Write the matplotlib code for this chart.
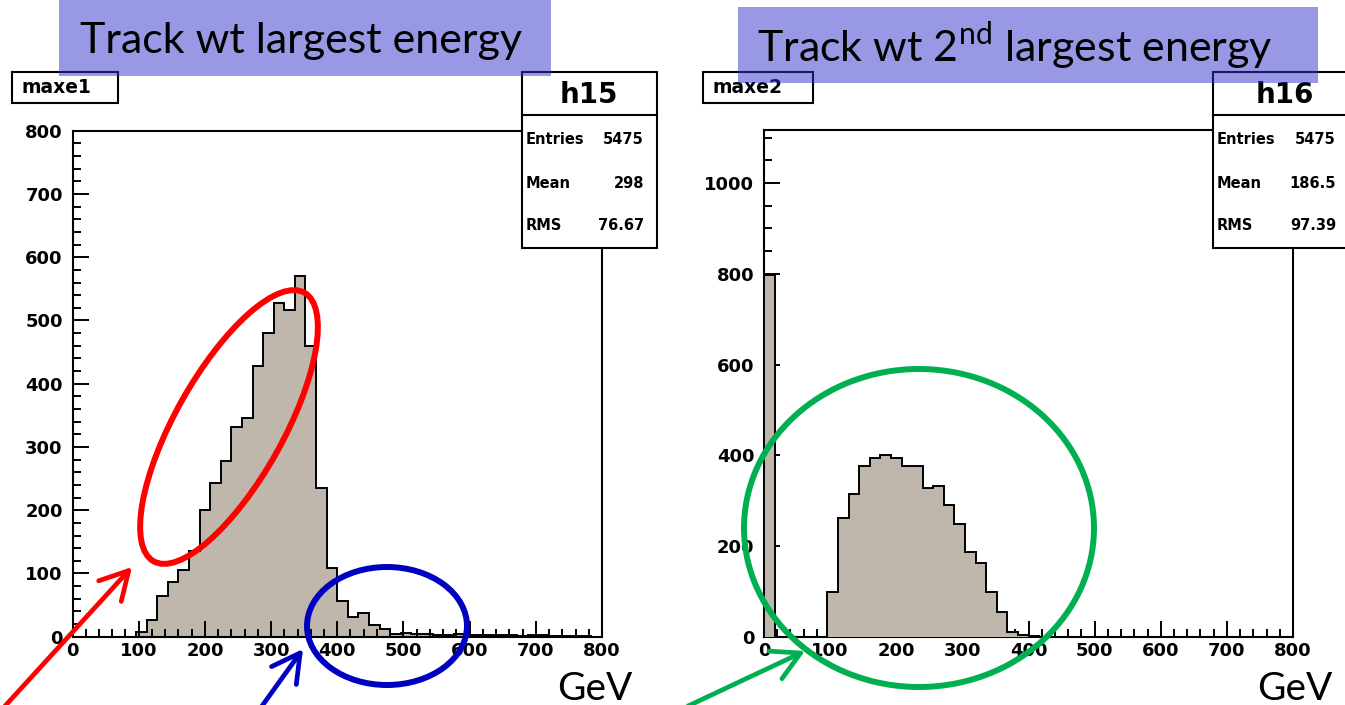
import numpy as np
import matplotlib
matplotlib.use("Agg")
import matplotlib.pyplot as plt
from matplotlib.patches import Rectangle, Ellipse
from matplotlib.ticker import MultipleLocator

plt.rcParams['font.family'] = ['DejaVu Sans']
plt.rcParams['font.weight'] = 'bold'
plt.rcParams['mathtext.fontset'] = 'custom'
plt.rcParams['mathtext.rm'] = 'Lato:weight=normal'

# 50 bins of 16 GeV, 0-800 GeV (ROOT histograms h15 / h16)
bin_edges = np.linspace(0, 800, 51)
maxe1_counts = [0, 0, 0, 0, 0, 0, 8, 26, 65, 86, 106, 135, 200, 243, 278, 331, 345,
                428, 480, 527, 516, 570, 460, 235, 108, 57, 31, 38, 18, 12, 4,
                6, 5, 4, 3, 3, 4, 2, 3, 2, 2, 3, 1, 2, 2, 1, 1, 1, 1, 0]
maxe2_counts = [797, 0, 0, 0, 0, 0, 98, 262, 315, 376, 393, 400, 395, 376, 376, 327,
                333, 290, 248, 187, 163, 98, 54, 11, 4, 1] + [0] * 24

stat_names = ["Entries", "Mean", "RMS"]
h15_stats = ["5475", "298", "76.67"]
h16_stats = ["5475", "186.5", "97.39"]

W, H = 1345, 705
FILL = '#bfb6ac'

fig = plt.figure(figsize=(W / 100, H / 100), dpi=100)


def px_axes(x0, x1, y0, y1):
    # axes box given in picture pixels (y from top)
    return fig.add_axes([x0 / W, 1 - y1 / H, (x1 - x0) / W, (y1 - y0) / H])


def style_axes(ax, ymax, ymajor, yminor):
    ax.set_xlim(0, 800)
    ax.set_ylim(0, ymax)
    ax.xaxis.set_major_locator(MultipleLocator(100))
    ax.xaxis.set_minor_locator(MultipleLocator(20))
    ax.yaxis.set_major_locator(MultipleLocator(ymajor))
    ax.yaxis.set_minor_locator(MultipleLocator(yminor))
    ax.tick_params(which='both', direction='in', width=1.4, labelsize=13)
    ax.tick_params(which='major', length=11.5)
    ax.tick_params(which='minor', length=5.5)
    ax.tick_params(axis='y', pad=7)
    ax.tick_params(axis='x', pad=4)
    for s in ax.spines.values():
        s.set_linewidth(1.5)


ax1 = px_axes(72.5, 602, 130.7, 636.7)
ax1.stairs(maxe1_counts, bin_edges, fill=True, color=FILL, zorder=1)
ax1.stairs(maxe1_counts, bin_edges, color='black', lw=1.4, zorder=2)
style_axes(ax1, 800, 100, 20)

ax2 = px_axes(764, 1293, 130, 636.7)
style_axes(ax2, 1117, 200, 50)
ax2.stairs(maxe2_counts, bin_edges, fill=True, color=FILL, zorder=3, clip_on=False)
ax2.stairs(maxe2_counts, bin_edges, color='black', lw=1.4, zorder=4)

# overlay in picture pixels for boxes, banners and hand-drawn marks
ov = fig.add_axes([0, 0, 1, 1], zorder=10)
ov.set_xlim(0, W)
ov.set_ylim(H, 0)
ov.axis('off')


def stats_box(x0, x1, title, values, lab_x, val_x):
    ov.add_patch(Rectangle((x0, 72.3), x1 - x0, 176, facecolor='white',
                           edgecolor='black', lw=1.5, zorder=2))
    ov.plot([x0, x1], [115, 115], color='black', lw=1.5, zorder=3)
    ov.text((x0 + min(x1, W)) / 2 + (6 if x1 > W else 0), 95, title, fontsize=20,
            ha='center', va='center', zorder=4)
    for name, val, y in zip(stat_names, values, [139, 183, 226]):
        ov.text(lab_x, y, name, fontsize=10.5, ha='left', va='center', zorder=4)
        ov.text(val_x, y, val, fontsize=10.5, ha='right', va='center', zorder=4)


stats_box(521.7, 656.7, "h15", h15_stats, 526, 644)
stats_box(1213.3, 1370, "h16", h16_stats, 1217, 1336)


def name_box(x0, x1, label):
    ov.add_patch(Rectangle((x0, 71.5), x1 - x0, 31.5, facecolor='white',
                           edgecolor='black', lw=1.5, zorder=2))
    ov.text(x0 + 10, 87.5, label, fontsize=13.5, ha='left', va='center', zorder=4)


name_box(11.7, 118.3, "maxe1")
name_box(702.7, 812.7, "maxe2")

# lavender title banners
ov.add_patch(Rectangle((58.5, -5), 492.5, 81, facecolor='#3333cc', alpha=0.5,
                       edgecolor='none', zorder=5))
ov.add_patch(Rectangle((738, 7), 580, 76, facecolor='#3333cc', alpha=0.5,
                       edgecolor='none', zorder=5))
ov.text(80, 53, "Track wt largest energy", family='Lato', fontweight='normal',
        fontsize=31, ha='left', va='baseline', zorder=6)
ov.text(757, 62, r"Track wt 2$^{\mathrm{nd}}$ largest energy", family='Lato',
        fontweight='normal', fontsize=31, ha='left', va='baseline', zorder=6)

ov.text(557, 700, "GeV", family='Lato', fontweight='normal', fontsize=28,
        ha='left', va='baseline', zorder=6)
ov.text(1257, 700, "GeV", family='Lato', fontweight='normal', fontsize=28,
        ha='left', va='baseline', zorder=6)

# circled regions and arrows
ov.add_patch(Ellipse((229, 427), 308, 108, angle=-60.7, fill=False,
                     edgecolor='#ff0000', lw=4.3, zorder=7))
ov.add_patch(Ellipse((387, 626), 160, 118, fill=False,
                     edgecolor='#0000c0', lw=4.3, zorder=7))
ov.add_patch(Ellipse((919, 528), 350, 318, fill=False,
                     edgecolor='#00b050', lw=4.3, zorder=7))

for (xs, ys), (xe, ye), col in [((5, 706), (132, 567), '#ff0000'),
                                ((262, 706), (303, 649), '#0000c0'),
                                ((688, 706), (805, 651), '#00b050')]:
    ov.annotate("", xy=(xe, ye), xytext=(xs, ys),
                arrowprops=dict(arrowstyle='->,head_length=1.0,head_width=0.55',
                                color=col, lw=3.4, mutation_scale=20,
                                shrinkA=0, shrinkB=0),
                zorder=7)

fig.savefig("out.png", dpi=100)
